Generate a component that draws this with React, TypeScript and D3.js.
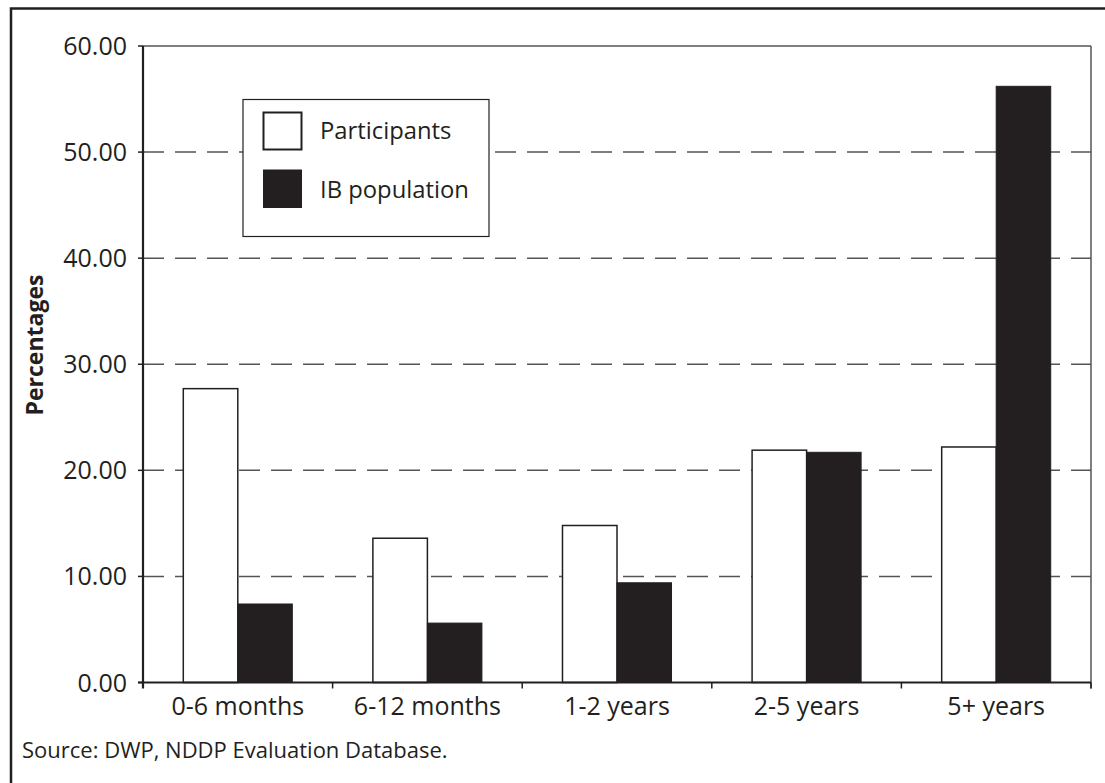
import React from "react";
import * as d3 from "d3";

const categories = ["0-6 months", "6-12 months", "1-2 years", "2-5 years", "5+ years"];
const participants = [27.7, 13.6, 14.8, 21.9, 22.2];
const ibPopulation = [7.4, 5.6, 9.4, 21.7, 56.2];
const yTicks = [0, 10, 20, 30, 40, 50, 60];
const seriesNames = ["Participants", "IB population"];

const W = 1105;
const H = 783;
const left = 143;
const right = 1091;
const top = 46;
const bottom = 682.5;
const ink = "#231f20";
const font = "'Open Sans', 'Noto Sans', sans-serif";

export default function App() {
  const x = d3.scaleBand<string>().domain(categories).range([left, right]).paddingInner(0.425).paddingOuter(0.2125);
  const step = x.step();
  const bw = x.bandwidth() / 2;
  const y = d3.scaleLinear().domain([0, 60]).range([bottom, top]);
  const fmt = d3.format(".2f");

  return (
    <svg width={W} height={H} style={{ position: "absolute", left: 0, top: 0, background: "#fff" }} fontFamily={font}>
      <rect x={11} y={8.5} width={W + 20} height={H + 20} fill="none" stroke={ink} strokeWidth={2.5} />
      {/* gridlines */}
      {yTicks.filter((t) => t > 0 && t < 60).map((t) => (
        <line key={t} x1={left} x2={right} y1={y(t)} y2={y(t)} stroke="#555" strokeWidth={1.5} strokeDasharray="21,11" />
      ))}
      {/* frame top/right */}
      <line x1={left} x2={right} y1={y(60)} y2={y(60)} stroke="#555" strokeWidth={1.5} />
      <line x1={right} x2={right} y1={y(60)} y2={bottom + 6} stroke="#555" strokeWidth={1.5} />
      {/* bars */}
      {categories.map((c, i) => (
        <g key={c}>
          <rect x={x(c)!} y={y(participants[i])} width={bw} height={y(0) - y(participants[i])} fill="#fff" stroke={ink} strokeWidth={1.5} />
          <rect x={x(c)! + bw} y={y(ibPopulation[i])} width={bw} height={y(0) - y(ibPopulation[i])} fill={ink} stroke={ink} strokeWidth={1} />
        </g>
      ))}
      {/* axes */}
      <line x1={left} x2={left} y1={top} y2={bottom + 6} stroke={ink} strokeWidth={2.2} />
      <line x1={left - 5} x2={right} y1={bottom} y2={bottom} stroke={ink} strokeWidth={2.2} />
      {yTicks.map((t) => (
        <g key={t}>
          <line x1={left - 5} x2={left} y1={y(t)} y2={y(t)} stroke={ink} strokeWidth={1.5} />
          <text x={127} y={y(t)} dy="0.36em" textAnchor="end" fontSize={25} fill={ink}>{fmt(t)}</text>
        </g>
      ))}
      {categories.map((c, i) => (
        <g key={c}>
          <line x1={left + step * (i + 1)} x2={left + step * (i + 1)} y1={bottom} y2={bottom + 6} stroke={ink} strokeWidth={1.5} />
          <text x={x(c)! + x.bandwidth() / 2} y={715} textAnchor="middle" fontSize={25} fill={ink}>{c}</text>
        </g>
      ))}
      <text transform={`translate(43,345) rotate(-90)`} textAnchor="middle" fontSize={23} fontWeight="bold" fill={ink}>Percentages</text>
      {/* legend */}
      <rect x={243} y={99.5} width={246} height={137} fill="#fff" stroke={ink} strokeWidth={1.2} />
      <rect x={263.5} y={112.5} width={38} height={37} fill="#fff" stroke={ink} strokeWidth={2} />
      <rect x={263} y={169.5} width={39} height={38.5} fill={ink} />
      <text x={320} y={139} fontSize={23.8} fill={ink}>{seriesNames[0]}</text>
      <text x={320} y={198} fontSize={23.8} fill={ink}>{seriesNames[1]}</text>
      <text x={22} y={758} fontSize={22} fill={ink}>Source: DWP, NDDP Evaluation Database.</text>
    </svg>
  );
}
